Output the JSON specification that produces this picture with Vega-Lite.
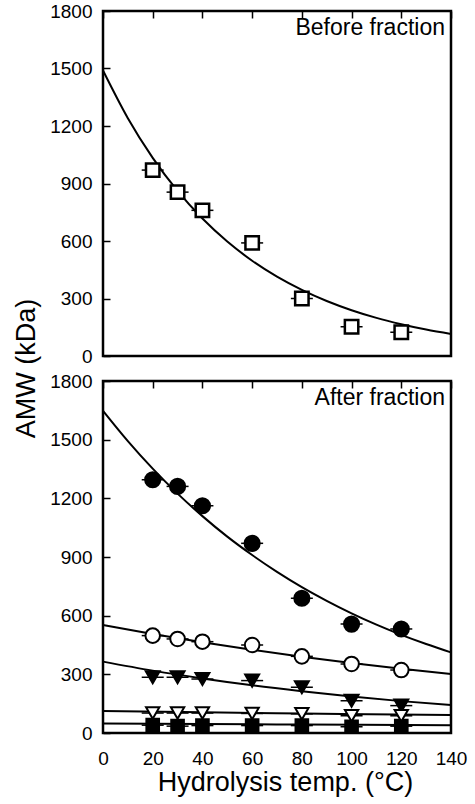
{
  "$schema": "https://vega.github.io/schema/vega-lite/v6.json",
  "padding": {"left": 10, "top": 0, "right": 5, "bottom": 5},
  "background": "white",
  "spacing": 25,
  "bounds": "flush",
  "datasets": {
    "top_pts": [
      {"temp": 20, "amw": 970},
      {"temp": 30, "amw": 855},
      {"temp": 40, "amw": 760},
      {"temp": 60, "amw": 590},
      {"temp": 80, "amw": 300},
      {"temp": 100, "amw": 153},
      {"temp": 120, "amw": 124}
    ],
    "top_fit": [
      {"temp": 0, "amw": 1490}, {"temp": 10, "amw": 1241}, {"temp": 20, "amw": 1034},
      {"temp": 30, "amw": 861}, {"temp": 40, "amw": 717}, {"temp": 50, "amw": 597},
      {"temp": 60, "amw": 497}, {"temp": 70, "amw": 414}, {"temp": 80, "amw": 345},
      {"temp": 90, "amw": 287}, {"temp": 100, "amw": 239}, {"temp": 110, "amw": 199},
      {"temp": 120, "amw": 166}, {"temp": 130, "amw": 138}, {"temp": 140, "amw": 115}
    ],
    "bot_pts": [
      {"series": "F1", "temp": 20, "amw": 1295}, {"series": "F1", "temp": 30, "amw": 1261},
      {"series": "F1", "temp": 40, "amw": 1162}, {"series": "F1", "temp": 60, "amw": 970},
      {"series": "F1", "temp": 80, "amw": 689}, {"series": "F1", "temp": 100, "amw": 557},
      {"series": "F1", "temp": 120, "amw": 532},
      {"series": "F2", "temp": 20, "amw": 498}, {"series": "F2", "temp": 30, "amw": 481},
      {"series": "F2", "temp": 40, "amw": 467}, {"series": "F2", "temp": 60, "amw": 450},
      {"series": "F2", "temp": 80, "amw": 392}, {"series": "F2", "temp": 100, "amw": 353},
      {"series": "F2", "temp": 120, "amw": 322},
      {"series": "F3", "temp": 20, "amw": 285}, {"series": "F3", "temp": 30, "amw": 285},
      {"series": "F3", "temp": 40, "amw": 276}, {"series": "F3", "temp": 60, "amw": 268},
      {"series": "F3", "temp": 80, "amw": 234}, {"series": "F3", "temp": 100, "amw": 165},
      {"series": "F3", "temp": 120, "amw": 140},
      {"series": "F5", "temp": 20, "amw": 40}, {"series": "F5", "temp": 30, "amw": 35},
      {"series": "F5", "temp": 40, "amw": 38}, {"series": "F5", "temp": 60, "amw": 38},
      {"series": "F5", "temp": 80, "amw": 38}, {"series": "F5", "temp": 100, "amw": 32},
      {"series": "F5", "temp": 120, "amw": 35},
      {"series": "F4", "temp": 20, "amw": 102}, {"series": "F4", "temp": 30, "amw": 102},
      {"series": "F4", "temp": 40, "amw": 102}, {"series": "F4", "temp": 60, "amw": 100},
      {"series": "F4", "temp": 80, "amw": 98}, {"series": "F4", "temp": 100, "amw": 88},
      {"series": "F4", "temp": 120, "amw": 88}
    ],
    "bot_fit": [
      {"series": "F1", "temp": 0, "amw": 1648}, {"series": "F1", "temp": 10, "amw": 1493},
      {"series": "F1", "temp": 20, "amw": 1352}, {"series": "F1", "temp": 30, "amw": 1224},
      {"series": "F1", "temp": 40, "amw": 1109}, {"series": "F1", "temp": 50, "amw": 1004},
      {"series": "F1", "temp": 60, "amw": 910}, {"series": "F1", "temp": 70, "amw": 824},
      {"series": "F1", "temp": 80, "amw": 746}, {"series": "F1", "temp": 90, "amw": 676},
      {"series": "F1", "temp": 100, "amw": 612}, {"series": "F1", "temp": 110, "amw": 554},
      {"series": "F1", "temp": 120, "amw": 502}, {"series": "F1", "temp": 130, "amw": 455},
      {"series": "F1", "temp": 140, "amw": 412},
      {"series": "F2", "temp": 0, "amw": 552}, {"series": "F2", "temp": 20, "amw": 506},
      {"series": "F2", "temp": 40, "amw": 464}, {"series": "F2", "temp": 60, "amw": 426},
      {"series": "F2", "temp": 80, "amw": 390}, {"series": "F2", "temp": 100, "amw": 358},
      {"series": "F2", "temp": 120, "amw": 328}, {"series": "F2", "temp": 140, "amw": 302},
      {"series": "F3", "temp": 0, "amw": 365}, {"series": "F3", "temp": 20, "amw": 319},
      {"series": "F3", "temp": 40, "amw": 279}, {"series": "F3", "temp": 60, "amw": 244},
      {"series": "F3", "temp": 80, "amw": 214}, {"series": "F3", "temp": 100, "amw": 187},
      {"series": "F3", "temp": 120, "amw": 163}, {"series": "F3", "temp": 140, "amw": 143},
      {"series": "F4", "temp": 0, "amw": 112}, {"series": "F4", "temp": 40, "amw": 106},
      {"series": "F4", "temp": 80, "amw": 100}, {"series": "F4", "temp": 140, "amw": 92},
      {"series": "F5", "temp": 0, "amw": 48}, {"series": "F5", "temp": 40, "amw": 46},
      {"series": "F5", "temp": 80, "amw": 43}, {"series": "F5", "temp": 140, "amw": 40}
    ]
  },
  "vconcat": [
    {
      "width": 348,
      "height": 345,
      "layer": [
        {
          "data": {"name": "top_fit"},
          "mark": {"type": "line", "color": "black", "strokeWidth": 2, "interpolate": "monotone"},
          "encoding": {
            "x": {
              "field": "temp", "type": "quantitative",
              "scale": {"domain": [0, 140], "nice": false},
              "axis": {
                "values": [0,10,20,30,40,50,60,70,80,90,100,110,120,130,140],
                "labels": false, "title": null,
                "ticks": false, "tickSize": 0,
                "grid": true, "gridColor": "black", "gridWidth": 1.5, "gridOpacity": 1, "gridDash": [7, 2000]
              }
            },
            "y": {
              "field": "amw", "type": "quantitative",
              "scale": {"domain": [0, 1800], "nice": false},
              "axis": {
                "values": [0,150,300,450,600,750,900,1050,1200,1350,1500,1650,1800],
                "labelExpr": "datum.value % 300 == 0 ? datum.label : ''",
                "format": "d",
                "ticks": false, "tickSize": 0, "labelPadding": 11,
                "grid": true, "gridColor": "black", "gridWidth": 1.5, "gridOpacity": 1, "gridDash": [7, 2000],
                "title": "AMW (kDa)",
                "titleX": -77, "titleY": 357, "titleAngle": 270,
                "titleAlign": "center", "titleBaseline": "middle"
              }
            }
          }
        },
        {
          "data": {"name": "top_pts"},
          "mark": {"type": "tick", "orient": "horizontal", "size": 22, "thickness": 1.5, "color": "black", "opacity": 1},
          "encoding": {"x": {"field": "temp", "type": "quantitative"}, "y": {"field": "amw", "type": "quantitative"}}
        },
        {
          "data": {"name": "top_pts"},
          "mark": {"type": "point", "shape": "square", "filled": true, "fill": "white", "stroke": "black", "strokeWidth": 2.5, "size": 180, "opacity": 1},
          "encoding": {"x": {"field": "temp", "type": "quantitative"}, "y": {"field": "amw", "type": "quantitative"}}
        },
        {
          "data": {"values": [{"label": "Before fraction"}]},
          "mark": {"type": "text", "align": "right", "baseline": "top", "dx": -6, "dy": 6, "fontSize": 23, "font": "Liberation Sans", "color": "black"},
          "encoding": {"x": {"datum": 140, "type": "quantitative"}, "y": {"datum": 1800, "type": "quantitative"}, "text": {"field": "label", "type": "nominal"}}
        }
      ]
    },
    {
      "width": 348,
      "height": 352,
      "layer": [
        {
          "data": {"name": "bot_fit"},
          "mark": {"type": "line", "color": "black", "strokeWidth": 2, "interpolate": "monotone"},
          "encoding": {
            "x": {
              "field": "temp", "type": "quantitative",
              "scale": {"domain": [0, 140], "nice": false},
              "axis": {
                "values": [0,10,20,30,40,50,60,70,80,90,100,110,120,130,140],
                "labelExpr": "datum.value % 20 == 0 ? datum.label : ''",
                "labelFlush": false, "labelOverlap": false,
                "ticks": false, "tickSize": 0, "labelPadding": 16,
                "grid": true, "gridColor": "black", "gridWidth": 1.5, "gridOpacity": 1, "gridDash": [7, 2000],
                "title": "Hydrolysis temp. (°C)",
                "titleX": 182, "titleY": 57, "titleAlign": "center", "titleBaseline": "alphabetic"
              }
            },
            "y": {
              "field": "amw", "type": "quantitative",
              "scale": {"domain": [0, 1800], "nice": false},
              "axis": {
                "values": [0,150,300,450,600,750,900,1050,1200,1350,1500,1650,1800],
                "labelExpr": "datum.value % 300 == 0 ? datum.label : ''",
                "format": "d", "title": null,
                "ticks": false, "tickSize": 0, "labelPadding": 11,
                "grid": true, "gridColor": "black", "gridWidth": 1.5, "gridOpacity": 1, "gridDash": [7, 2000]
              }
            },
            "detail": {"field": "series", "type": "nominal"}
          }
        },
        {
          "data": {"name": "bot_pts"},
          "mark": {"type": "tick", "orient": "horizontal", "size": 22, "thickness": 1.5, "color": "black", "opacity": 1},
          "encoding": {"x": {"field": "temp", "type": "quantitative"}, "y": {"field": "amw", "type": "quantitative"}}
        },
        {
          "data": {"name": "bot_pts"},
          "mark": {"type": "point", "filled": true, "stroke": "black", "strokeWidth": 2, "opacity": 1},
          "encoding": {
            "x": {"field": "temp", "type": "quantitative"},
            "y": {"field": "amw", "type": "quantitative"},
            "shape": {"field": "series", "type": "nominal", "scale": {"domain": ["F1","F2","F3","F4","F5"], "range": ["circle","circle","triangle-down","triangle-down","square"]}, "legend": null},
            "fill": {"field": "series", "type": "nominal", "scale": {"domain": ["F1","F2","F3","F4","F5"], "range": ["black","white","black","white","black"]}, "legend": null},
            "size": {"field": "series", "type": "nominal", "scale": {"domain": ["F1","F2","F3","F4","F5"], "range": [230,160,170,160,140]}, "legend": null}
          }
        },
        {
          "data": {"values": [{"label": "After fraction"}]},
          "mark": {"type": "text", "align": "right", "baseline": "top", "dx": -6, "dy": 6, "fontSize": 23, "font": "Liberation Sans", "color": "black"},
          "encoding": {"x": {"datum": 140, "type": "quantitative"}, "y": {"datum": 1800, "type": "quantitative"}, "text": {"field": "label", "type": "nominal"}}
        }
      ]
    }
  ],
  "config": {
    "view": {"stroke": "black", "strokeWidth": 2.5},
    "axis": {
      "domain": false,
      "labelFont": "Liberation Sans", "labelFontSize": 19, "labelColor": "black",
      "titleFont": "Liberation Sans", "titleFontSize": 27, "titleFontWeight": "normal", "titleColor": "black"
    }
  }
}
